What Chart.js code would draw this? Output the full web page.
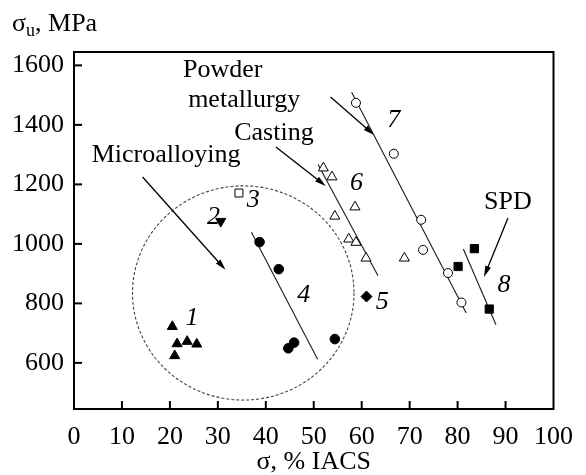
<!DOCTYPE html>
<html>
<head>
<meta charset="utf-8">
<script src="https://cdn.jsdelivr.net/npm/chart.js@4.4.1/dist/chart.umd.min.js"></script>
<style>
  html, body { margin: 0; padding: 0; background: #fff; }
  #wrap { width: 586px; height: 475px; }
</style>
</head>
<body>
<div id="wrap"><canvas id="chart"></canvas></div>
<script>
// ===== data =====
const xTicks = [0, 10, 20, 30, 40, 50, 60, 70, 80, 90, 100];
const yTicks = [600, 800, 1000, 1200, 1400, 1600];

// 1 - microalloying (filled triangles)
const g1X = [20.5, 21.5, 23.6, 25.6, 21.0];
const g1Y = [722, 664, 672, 663, 624];
// 2 (filled down triangle)
const g2X = [30.6];
const g2Y = [1076];
// 3 (open square)
const g3X = [34.4];
const g3Y = [1171];
// 4 (filled circles)
const g4X = [38.7, 42.7, 44.7, 45.9, 54.4];
const g4Y = [1006, 915, 649, 668, 680];
// 5 (filled diamond)
const g5X = [61.0];
const g5Y = [823];
// 6 - casting (open triangles)
const g6X = [52.0, 53.8, 58.6, 54.4, 57.3, 58.8, 60.9, 68.9];
const g6Y = [1255, 1225, 1124, 1093, 1016, 1005, 952, 952];
// 7 - powder metallurgy (open circles)
const g7X = [58.8, 66.7, 72.4, 72.8, 78.0, 80.8];
const g7Y = [1474, 1303, 1081, 980, 902, 803];
// 8 - SPD (filled squares)
const g8X = [83.5, 80.1, 86.6];
const g8Y = [984, 924, 781];

// trend lines (end points)
const line4X = [37.0, 50.8];
const line4Y = [1039, 612];
const line6X = [50.9, 63.4];
const line6Y = [1267, 893];
const line7X = [57.9, 81.8];
const line7Y = [1510, 768];
const line8X = [81.2, 88.0];
const line8Y = [983, 728];

// ===== annotations (data coordinates) =====
const notes = [
    { text: 'Powder', x: 31.0, y: 1585 },
    { text: 'metallurgy', x: 35.5, y: 1484 },
    { text: 'Casting', x: 41.7, y: 1373 },
    { text: 'Microalloying', x: 19.2, y: 1299 },
    { text: 'SPD', x: 90.5, y: 1141 }
];
const numbers = [
    { text: '1', x: 24.6, y: 751 },
    { text: '2', x: 29.1, y: 1091 },
    { text: '3', x: 37.4, y: 1148 },
    { text: '4', x: 47.9, y: 829 },
    { text: '5', x: 64.3, y: 805 },
    { text: '6', x: 58.9, y: 1205 },
    { text: '7', x: 66.7, y: 1417 },
    { text: '8', x: 89.7, y: 862 }
];
const arrows = [
    { from: [14.3, 1225], to: [31.6, 913] },
    { from: [42.1, 1326], to: [52.5, 1195] },
    { from: [53.5, 1494], to: [62.6, 1366] },
    { from: [90.5, 1087], to: [85.5, 889] }
];
const circle = { x: 35.3, y: 835, rx: 23.1, ry: 360 };

const FONT = '"Liberation Serif", "Times New Roman", serif';

function pts(xs, ys) {
    return xs.map((x, i) => ({ x: x, y: ys[i] }));
}

function markers(xs, ys, style, filled, radius, rotation) {
    return {
        type: 'scatter',
        data: pts(xs, ys),
        pointStyle: style,
        pointRadius: radius,
        pointHoverRadius: radius,
        pointRotation: rotation || 0,
        pointBackgroundColor: filled ? '#000' : '#fff',
        pointBorderColor: '#000',
        pointBorderWidth: 1
    };
}

function trend(xs, ys) {
    return {
        type: 'line',
        data: pts(xs, ys),
        borderColor: '#1a1a1a',
        borderWidth: 1.1,
        pointRadius: 0,
        fill: false
    };
}

// frame, inner ticks, circle, arrows and texts
const decor = {
    id: 'decor',
    afterDatasetsDraw(chart) {
        const ctx = chart.ctx;
        const a = chart.chartArea;
        const sx = chart.scales.x;
        const sy = chart.scales.y;
        ctx.save();

        // dashed circle
        ctx.beginPath();
        ctx.setLineDash([3, 2]);
        ctx.strokeStyle = '#444';
        ctx.lineWidth = 1.1;
        const cx = sx.getPixelForValue(circle.x);
        const cy = sy.getPixelForValue(circle.y);
        const rx = sx.getPixelForValue(circle.x + circle.rx) - cx;
        const ry = cy - sy.getPixelForValue(circle.y + circle.ry);
        ctx.ellipse(cx, cy, rx, ry, 0, 0, Math.PI * 2);
        ctx.stroke();
        ctx.setLineDash([]);

        // arrows
        ctx.strokeStyle = '#000';
        ctx.fillStyle = '#000';
        arrows.forEach(ar => {
            const x1 = sx.getPixelForValue(ar.from[0]);
            const y1 = sy.getPixelForValue(ar.from[1]);
            const x2 = sx.getPixelForValue(ar.to[0]);
            const y2 = sy.getPixelForValue(ar.to[1]);
            const ang = Math.atan2(y2 - y1, x2 - x1);
            const len = 11, half = 3;
            ctx.lineWidth = 1.3;
            ctx.beginPath();
            ctx.moveTo(x1, y1);
            ctx.lineTo(x2 - Math.cos(ang) * len * 0.8, y2 - Math.sin(ang) * len * 0.8);
            ctx.stroke();
            ctx.beginPath();
            ctx.moveTo(x2, y2);
            ctx.lineTo(x2 - Math.cos(ang) * len - Math.sin(ang) * half,
                       y2 - Math.sin(ang) * len + Math.cos(ang) * half);
            ctx.lineTo(x2 - Math.cos(ang) * len + Math.sin(ang) * half,
                       y2 - Math.sin(ang) * len - Math.cos(ang) * half);
            ctx.closePath();
            ctx.fill();
        });

        // frame
        ctx.lineWidth = 2;
        ctx.strokeRect(a.left, a.top, a.right - a.left, a.bottom - a.top);

        // inner ticks
        sx.ticks.forEach(t => {
            const x = sx.getPixelForValue(t.value);
            if (x <= a.left + 1 || x >= a.right - 1) return;
            ctx.beginPath();
            ctx.moveTo(x, a.bottom);
            ctx.lineTo(x, a.bottom - 8);
            ctx.stroke();
        });
        sy.ticks.forEach(t => {
            const y = sy.getPixelForValue(t.value);
            ctx.beginPath();
            ctx.moveTo(a.left, y);
            ctx.lineTo(a.left + 8, y);
            ctx.stroke();
        });

        // texts
        ctx.textAlign = 'center';
        ctx.textBaseline = 'middle';
        ctx.font = '26px ' + FONT;
        notes.forEach(n => {
            ctx.fillText(n.text, sx.getPixelForValue(n.x), sy.getPixelForValue(n.y));
        });
        ctx.font = 'italic 26px ' + FONT;
        numbers.forEach(n => {
            ctx.fillText(n.text, sx.getPixelForValue(n.x), sy.getPixelForValue(n.y));
        });

        // axis titles
        ctx.font = '26px ' + FONT;
        ctx.fillText('σ, % IACS', (a.left + a.right) / 2, 462);

        ctx.textAlign = 'left';
        ctx.textBaseline = 'alphabetic';
        let px = 12;
        ctx.fillText('σ', px, 31);
        px += ctx.measureText('σ').width;
        ctx.font = '18px ' + FONT;
        ctx.fillText('u', px, 36);
        px += ctx.measureText('u').width;
        ctx.font = '26px ' + FONT;
        ctx.fillText(', MPa', px, 31);

        ctx.restore();
    }
};

new Chart(document.getElementById('chart'), {
    type: 'scatter',
    data: {
        datasets: [
            markers(g1X, g1Y, 'triangle', true, 5.8),
            markers(g2X, g2Y, 'triangle', true, 5.8, 180),
            markers(g3X, g3Y, 'rect', false, 5.6),
            markers(g4X, g4Y, 'circle', true, 4.8),
            markers(g5X, g5Y, 'rectRot', true, 5.5),
            markers(g6X, g6Y, 'triangle', false, 5.8),
            markers(g7X, g7Y, 'circle', false, 4.5),
            markers(g8X, g8Y, 'rect', true, 5.8),
            trend(line4X, line4Y),
            trend(line6X, line6Y),
            trend(line7X, line7Y),
            trend(line8X, line8Y)
        ]
    },
    options: {
        responsive: true,
        maintainAspectRatio: false,
        animation: false,
        layout: { padding: { top: 52, right: 28, left: 0, bottom: 0 } },
        plugins: {
            legend: { display: false },
            tooltip: { enabled: false }
        },
        scales: {
            x: {
                type: 'linear',
                min: 0,
                max: 100,
                afterBuildTicks: s => { s.ticks = xTicks.map(v => ({ value: v })); },
                afterFit: s => { s.height = 66; },
                grid: { display: false, drawTicks: false },
                border: { display: false },
                ticks: {
                    color: '#000',
                    padding: 13,
                    font: { family: FONT, size: 26 },
                    callback: v => String(v)
                }
            },
            y: {
                type: 'linear',
                min: 445,
                max: 1645,
                afterBuildTicks: s => { s.ticks = yTicks.map(v => ({ value: v })); },
                afterFit: s => { s.width = 74; },
                grid: { display: false, drawTicks: false },
                border: { display: false },
                ticks: {
                    color: '#000',
                    padding: 10,
                    font: { family: FONT, size: 26 },
                    callback: v => String(v)
                }
            }
        }
    },
    plugins: [decor]
});
</script>
</body>
</html>
